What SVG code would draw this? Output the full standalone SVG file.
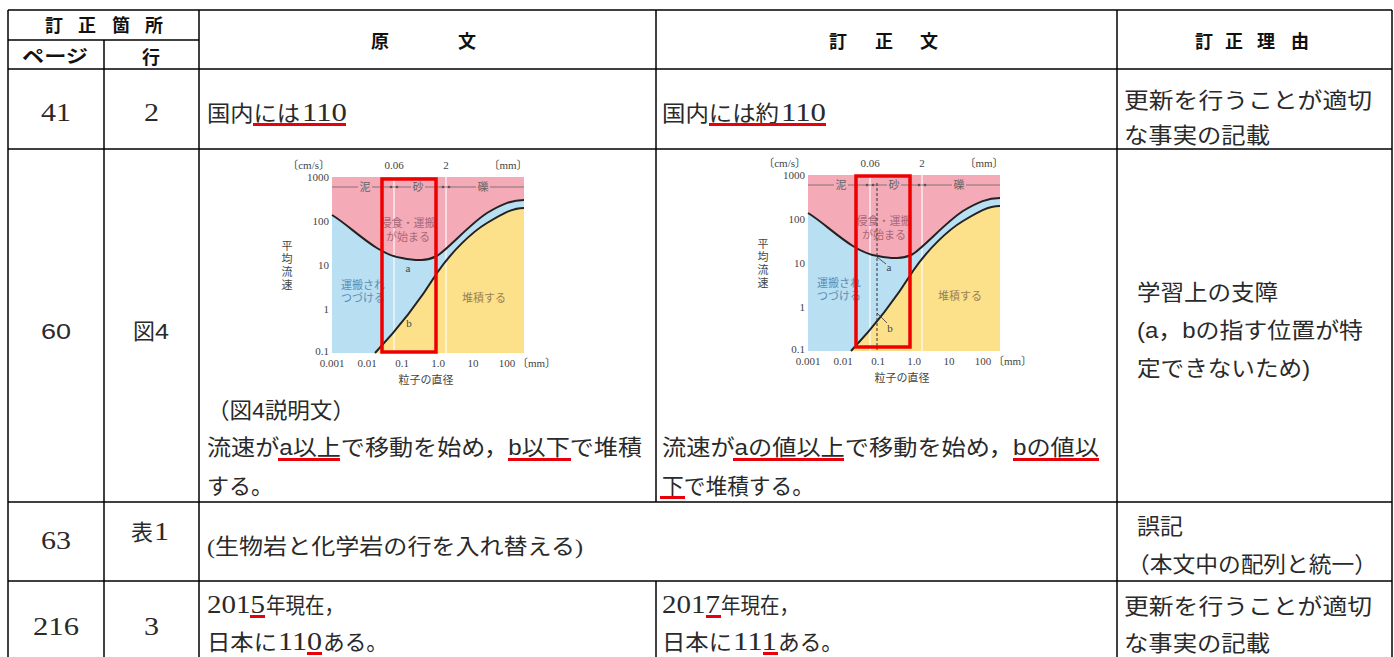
<svg xmlns="http://www.w3.org/2000/svg" xmlns:xlink="http://www.w3.org/1999/xlink" width="1394" height="657" viewBox="0 0 1394 657">
<style>
.ln{stroke:#000;stroke-width:1.5;fill:none}
.hd{font-family:"Noto Sans CJK JP",sans-serif;font-size:18px;font-weight:bold;fill:#111}
.tx{font-family:"Liberation Serif","Noto Sans CJK JP",serif;font-size:22px;fill:#2a2a2a}
.dg{font-family:"Liberation Serif",serif;font-size:25px;fill:#2a2a2a}
.sn{font-family:"Liberation Sans","Noto Sans CJK JP",sans-serif}
.ul{fill:#e8000b}
.ck{font-family:"Liberation Serif","Noto Sans CJK JP",serif;font-size:11px;fill:#444}
.cj{font-family:"Noto Sans CJK JP",sans-serif;font-size:11px}
.crv{fill:none;stroke:#222;stroke-width:2}
.red{fill:none;stroke:#ee0000;stroke-width:3.5}
</style>
<defs>
<g id="chartBase">
<rect x="0" y="0" width="192" height="176" fill="#f5aab8"/>
<path d="M0,38 C20,50 45,78 70,81 C85,84 95,84 105,79 C118,70 138,47 155,36 C170,27 180,23 192,23 L192,176 L0,176 Z" fill="#b8dff2"/>
<path d="M43,176 C60,158 85,128 105,96 C120,74 140,55 155,46 C170,37 180,31 192,31 L192,176 Z" fill="#fde18a"/>
<line x1="62" y1="0" x2="62" y2="176" stroke="#fff" stroke-width="1.3" opacity="0.9"/>
<line x1="114" y1="0" x2="114" y2="176" stroke="#fff" stroke-width="1.3" opacity="0.9"/>
<path class="crv" d="M0,38 C20,50 45,78 70,81 C85,84 95,84 105,79 C118,70 138,47 155,36 C170,27 180,23 192,23"/>
<path class="crv" d="M43,176 C60,158 85,128 105,96 C120,74 140,55 155,46 C170,37 180,31 192,31"/>
<line x1="0" y1="10" x2="192" y2="10" stroke="#666" stroke-width="0.8"/>
<rect x="26" y="3" width="14" height="14" fill="#f5aab8"/>
<rect x="79" y="3" width="14" height="14" fill="#f5aab8"/>
<rect x="144" y="3" width="14" height="14" fill="#f5aab8"/>
<text class="cj" x="33" y="14" text-anchor="middle" fill="#666">泥</text>
<text class="cj" x="86" y="14" text-anchor="middle" fill="#666">砂</text>
<text class="cj" x="151" y="14" text-anchor="middle" fill="#666">礫</text>
<circle cx="59" cy="10" r="1.3" fill="#555"/>
<circle cx="65" cy="10" r="1.3" fill="#555"/>
<circle cx="111" cy="10" r="1.3" fill="#555"/>
<circle cx="117" cy="10" r="1.3" fill="#555"/>
<text class="cj" x="76" y="50" text-anchor="middle" fill="#a86878">侵食・運搬</text>
<text class="cj" x="76" y="64" text-anchor="middle" fill="#a86878">が始まる</text>
<text class="cj" x="31" y="112" text-anchor="middle" fill="#5a8db5">運搬され</text>
<text class="cj" x="31" y="125" text-anchor="middle" fill="#5a8db5">つづける</text>
<text class="cj" x="152" y="125" text-anchor="middle" fill="#9a8050" font-size="12">堆積する</text>
<text class="ck" x="-3" y="4" text-anchor="end">1000</text>
<text class="ck" x="-3" y="48" text-anchor="end">100</text>
<text class="ck" x="-3" y="92" text-anchor="end">10</text>
<text class="ck" x="-3" y="136" text-anchor="end">1</text>
<text class="ck" x="-3" y="178" text-anchor="end">0.1</text>
<text class="ck" x="0" y="190" text-anchor="middle">0.001</text>
<text class="ck" x="35" y="190" text-anchor="middle">0.01</text>
<text class="ck" x="70" y="190" text-anchor="middle">0.1</text>
<text class="ck" x="106" y="190" text-anchor="middle">1.0</text>
<text class="ck" x="141" y="190" text-anchor="middle">10</text>
<text class="ck" x="175" y="190" text-anchor="middle">100</text>
<text class="ck" x="185" y="190">〔mm〕</text>
<text class="ck" x="-2" y="-8" text-anchor="end">〔cm/s〕</text>
<text class="ck" x="62" y="-8" text-anchor="middle">0.06</text>
<text class="ck" x="114" y="-8" text-anchor="middle">2</text>
<text class="ck" x="176" y="-8" text-anchor="middle">〔mm〕</text>
<text class="cj" x="94" y="207" text-anchor="middle" fill="#444" font-size="12">粒子の直径</text>
<text class="cj" x="-45" y="73" text-anchor="middle" fill="#444" font-size="12">平<tspan x="-45" dy="13">均</tspan><tspan x="-45" dy="13">流</tspan><tspan x="-45" dy="13">速</tspan></text>
</g>
</defs>

<g id="grid">
<line class="ln" x1="8" y1="10" x2="1392" y2="10"/>
<line class="ln" x1="8" y1="40" x2="199" y2="40"/>
<line class="ln" x1="8" y1="69" x2="1392" y2="69"/>
<line class="ln" x1="8" y1="149" x2="1392" y2="149"/>
<line class="ln" x1="8" y1="502" x2="1392" y2="502"/>
<line class="ln" x1="8" y1="581" x2="1392" y2="581"/>
<line class="ln" x1="8" y1="10" x2="8" y2="657"/>
<line class="ln" x1="104" y1="40" x2="104" y2="657"/>
<line class="ln" x1="199" y1="10" x2="199" y2="657"/>
<line class="ln" x1="656" y1="10" x2="656" y2="502"/>
<line class="ln" x1="656" y1="581" x2="656" y2="657"/>
<line class="ln" x1="1117" y1="10" x2="1117" y2="657"/>
<line class="ln" x1="1392" y1="10" x2="1392" y2="657"/>
</g>

<g id="header">
<text class="hd" x="45 78 112 145" y="32">訂正箇所</text>
<text class="hd" x="22" y="63" textLength="66" lengthAdjust="spacingAndGlyphs">ページ</text>
<text class="hd" x="151" y="64" text-anchor="middle">行</text>
<text class="hd" x="371 458" y="48">原文</text>
<text class="hd" x="829 875 920" y="48">訂正文</text>
<text class="hd" x="1195 1225 1257 1291" y="48">訂正理由</text>
</g>

<g id="row41">
<text class="dg" x="41" y="121" textLength="30" lengthAdjust="spacingAndGlyphs">41</text>
<text class="dg" x="144" y="121" textLength="15" lengthAdjust="spacingAndGlyphs">2</text>
<text class="tx" x="207" y="121" textLength="93" lengthAdjust="spacingAndGlyphs">国内には</text>
<text class="dg" x="302" y="121" textLength="45" lengthAdjust="spacingAndGlyphs">110</text>
<rect class="ul" x="253" y="123" width="93" height="3"/>
<text class="tx" x="662" y="121" textLength="117" lengthAdjust="spacingAndGlyphs">国内には約</text>
<text class="dg" x="781" y="121" textLength="45" lengthAdjust="spacingAndGlyphs">110</text>
<rect class="ul" x="709" y="123" width="117" height="3"/>
<text class="tx" x="1124" y="108" textLength="248" lengthAdjust="spacingAndGlyphs">更新を行うことが適切</text>
<text class="tx" x="1124" y="143" textLength="146" lengthAdjust="spacingAndGlyphs">な事実の記載</text>
</g>

<g id="row60">
<text class="tx sn" x="41" y="339" font-size="24" textLength="30" lengthAdjust="spacingAndGlyphs">60</text>
<text class="tx" x="133" y="339" textLength="22" lengthAdjust="spacingAndGlyphs">図</text>
<text class="tx sn" x="155" y="339" font-size="24" textLength="14" lengthAdjust="spacingAndGlyphs">4</text>
<g id="chart1">
<use xlink:href="#chartBase" transform="translate(332,177)"/>
<text class="ck" x="408" y="272" text-anchor="middle" font-size="12">a</text>
<text class="ck" x="409" y="327" text-anchor="middle" font-size="12">b</text>
<rect class="red" x="382" y="179" width="54" height="173"/>
</g>
<g id="chart2">
<use xlink:href="#chartBase" transform="translate(808,175)"/>
<line x1="877" y1="183" x2="877" y2="350" stroke="#333" stroke-width="1" stroke-dasharray="3,2"/>
<line x1="877" y1="257" x2="886" y2="264" stroke="#333" stroke-width="0.8"/>
<line x1="877" y1="313" x2="887" y2="323" stroke="#333" stroke-width="0.8"/>
<text class="ck" x="889" y="271" text-anchor="middle" font-size="12">a</text>
<text class="ck" x="890" y="332" text-anchor="middle" font-size="12">b</text>
<rect class="red" x="856" y="176" width="54" height="171"/>
</g>
<text class="tx" x="207" y="418" textLength="148" lengthAdjust="spacingAndGlyphs">（図<tspan class="sn">4</tspan>説明文）</text>
<text class="tx" x="207" y="455" textLength="435" lengthAdjust="spacingAndGlyphs">流速が<tspan class="sn">a</tspan>以上で移動を始め，<tspan class="sn">b</tspan>以下で堆積</text>
<rect class="ul" x="278" y="458" width="62" height="3"/>
<rect class="ul" x="508" y="458" width="63" height="3"/>
<text class="tx" x="207" y="494">する。</text>
<text class="tx" x="662" y="455" textLength="437" lengthAdjust="spacingAndGlyphs">流速が<tspan class="sn">a</tspan>の値以上で移動を始め，<tspan class="sn">b</tspan>の値以</text>
<rect class="ul" x="733" y="458" width="111" height="3"/>
<rect class="ul" x="1013" y="458" width="86" height="3"/>
<text class="tx" x="662" y="494" textLength="152" lengthAdjust="spacingAndGlyphs">下で堆積する。</text>
<rect class="ul" x="660" y="496" width="25" height="3"/>
<text class="tx" x="1137" y="300" textLength="141" lengthAdjust="spacingAndGlyphs">学習上の支障</text>
<text class="tx sn" x="1137" y="338" textLength="226" lengthAdjust="spacingAndGlyphs">(a，bの指す位置が特</text>
<text class="tx sn" x="1137" y="376" textLength="173" lengthAdjust="spacingAndGlyphs">定できないため)</text>
</g>

<g id="row63">
<text class="dg" x="41" y="549" textLength="30" lengthAdjust="spacingAndGlyphs">63</text>
<text class="tx" x="131" y="540" textLength="22" lengthAdjust="spacingAndGlyphs">表</text>
<text class="dg" x="154" y="540" textLength="15" lengthAdjust="spacingAndGlyphs">1</text>
<text class="tx" x="207" y="554" textLength="376" lengthAdjust="spacingAndGlyphs">(生物岩と化学岩の行を入れ替える)</text>
<text class="tx" x="1137" y="534" textLength="46" lengthAdjust="spacingAndGlyphs">誤記</text>
<text class="tx" x="1127" y="572" textLength="250" lengthAdjust="spacingAndGlyphs">（本文中の配列と統一）</text>
</g>

<g id="row216">
<text class="dg" x="33" y="635" textLength="46" lengthAdjust="spacingAndGlyphs">216</text>
<text class="dg" x="144" y="635" textLength="15" lengthAdjust="spacingAndGlyphs">3</text>
<text class="dg" x="207" y="613" textLength="58" lengthAdjust="spacingAndGlyphs">2015</text>
<text class="tx" x="266" y="613" textLength="78" lengthAdjust="spacingAndGlyphs">年現在，</text>
<rect class="ul" x="250" y="615" width="15" height="3"/>
<text class="tx" x="207" y="650" textLength="70" lengthAdjust="spacingAndGlyphs">日本に</text>
<text class="dg" x="278" y="650" textLength="44" lengthAdjust="spacingAndGlyphs">110</text>
<text class="tx" x="323" y="650" textLength="65" lengthAdjust="spacingAndGlyphs">ある。</text>
<rect class="ul" x="307" y="652" width="15" height="3"/>
<text class="dg" x="662" y="613" textLength="58" lengthAdjust="spacingAndGlyphs">2017</text>
<text class="tx" x="721" y="613" textLength="78" lengthAdjust="spacingAndGlyphs">年現在，</text>
<rect class="ul" x="706" y="615" width="15" height="3"/>
<text class="tx" x="662" y="650" textLength="70" lengthAdjust="spacingAndGlyphs">日本に</text>
<text class="dg" x="733" y="650" textLength="44" lengthAdjust="spacingAndGlyphs">111</text>
<text class="tx" x="778" y="650" textLength="65" lengthAdjust="spacingAndGlyphs">ある。</text>
<rect class="ul" x="763" y="652" width="15" height="3"/>
<text class="tx" x="1124" y="614" textLength="248" lengthAdjust="spacingAndGlyphs">更新を行うことが適切</text>
<text class="tx" x="1124" y="651" textLength="146" lengthAdjust="spacingAndGlyphs">な事実の記載</text>
</g>
</svg>
